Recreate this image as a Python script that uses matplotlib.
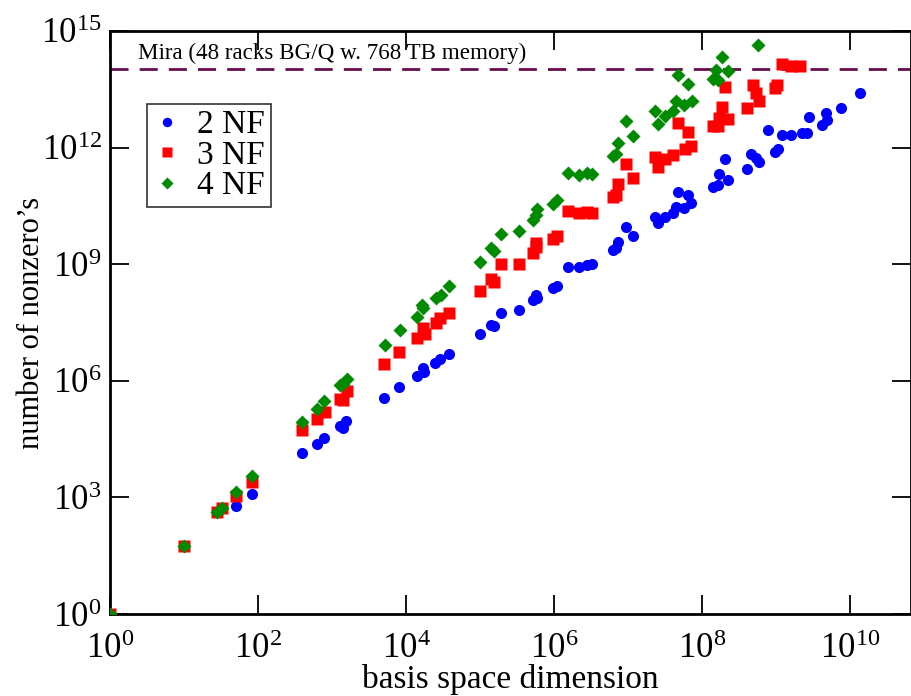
import matplotlib
matplotlib.use("Agg")
import matplotlib.pyplot as plt
import numpy as np
from matplotlib.ticker import FixedLocator, FuncFormatter, NullLocator

plt.rcParams['font.family'] = ['Liberation Serif', 'DejaVu Serif']
plt.rcParams['mathtext.fontset'] = 'custom'
plt.rcParams['mathtext.rm'] = 'Liberation Serif'
plt.rcParams['mathtext.it'] = 'Liberation Serif:italic'
plt.rcParams['mathtext.bf'] = 'Liberation Serif:bold'

# log10(basis space dimension) and log10(number of nonzeros)
x2_log = [0.00, 1.00, 1.44, 1.51, 1.70, 1.92, 2.60, 2.80, 2.89, 3.10, 3.15, 3.19, 3.70, 3.91,
          4.14, 4.23, 4.24, 4.39, 4.46, 4.58, 5.00, 5.15, 5.19, 5.28, 5.52, 5.72, 5.76, 5.77,
          5.98, 6.04, 6.19, 6.33, 6.44, 6.51, 6.79, 6.83, 6.86, 6.97, 7.06, 7.36, 7.40, 7.49,
          7.61, 7.65, 7.75, 7.85, 7.67, 7.81, 8.14, 8.21, 8.23, 8.35, 8.30, 8.61, 8.66, 8.72,
          8.77, 8.89, 8.98, 9.02, 9.07, 9.20, 9.34, 9.41, 9.44, 9.62, 9.68, 9.67, 9.87, 10.13]
y2_log = [0.00, 1.74, 2.62, 2.73, 2.79, 3.09, 4.14, 4.38, 4.53, 4.83, 4.79, 4.97, 5.56, 5.83,
          6.13, 6.32, 6.22, 6.46, 6.56, 6.69, 7.20, 7.44, 7.41, 7.74, 7.82, 8.08, 8.21, 8.12,
          8.38, 8.45, 8.92, 8.92, 8.98, 9.00, 9.36, 9.41, 9.58, 9.95, 9.73, 10.21, 10.07, 10.21,
          10.32, 10.46, 10.44, 10.57, 10.86, 10.78, 10.98, 11.04, 11.32, 11.17, 11.70, 11.44, 11.83, 11.72,
          11.62, 12.45, 11.89, 11.96, 12.32, 12.32, 12.38, 12.37, 12.79, 12.58, 12.71, 12.88, 13.01, 13.41]

x3_log = [0.00, 1.00, 1.44, 1.51, 1.70, 1.92, 2.60, 2.80, 2.91, 3.10, 3.15, 3.20, 3.70, 3.91,
          4.15, 4.23, 4.26, 4.41, 4.46, 4.58, 5.00, 5.15, 5.19, 5.28, 5.52, 5.71, 5.76, 5.76,
          5.98, 6.04, 6.19, 6.33, 6.44, 6.51, 6.79, 6.83, 6.86, 6.97, 7.06, 7.36, 7.40, 7.49,
          7.61, 7.67, 7.76, 7.81, 7.85, 8.14, 8.21, 8.23, 8.35, 8.26, 8.30, 8.61, 8.68, 8.73,
          8.77, 8.98, 9.01, 9.07, 9.20, 9.32]
y3_log = [0.00, 1.74, 2.62, 2.73, 3.03, 3.39, 4.74, 5.02, 5.21, 5.54, 5.51, 5.73, 6.44, 6.74,
          7.09, 7.35, 7.20, 7.48, 7.61, 7.75, 8.31, 8.61, 8.55, 9.00, 9.00, 9.30, 9.45, 9.54,
          9.64, 9.72, 10.38, 10.32, 10.35, 10.32, 10.74, 10.78, 11.06, 11.57, 11.21, 11.76, 11.49, 11.70,
          11.81, 12.62, 11.96, 12.41, 12.04, 12.55, 12.55, 12.75, 12.73, 13.04, 13.57, 13.01, 13.61, 13.41,
          13.21, 13.52, 13.61, 14.15, 14.10, 14.10]

x4_log = [0.00, 1.00, 1.44, 1.51, 1.70, 1.92, 2.60, 2.80, 2.89, 3.10, 3.15, 3.20, 3.71, 3.92,
          4.15, 4.23, 4.21, 4.41, 4.47, 4.58, 5.00, 5.15, 5.19, 5.28, 5.52, 5.71, 5.76, 5.77,
          5.98, 6.04, 6.19, 6.33, 6.44, 6.51, 6.79, 6.83, 6.86, 6.97, 7.06, 7.36, 7.40, 7.49,
          7.60, 7.65, 7.67, 7.75, 7.81, 7.86, 8.14, 8.21, 8.19, 8.26, 8.35, 8.75]
y4_log = [0.00, 1.74, 2.62, 2.73, 3.13, 3.54, 4.94, 5.28, 5.47, 5.88, 5.92, 6.05, 6.92, 7.31,
          7.65, 7.86, 7.95, 8.12, 8.22, 8.44, 9.06, 9.41, 9.35, 9.78, 9.86, 10.14, 10.27, 10.41,
          10.55, 10.65, 11.34, 11.29, 11.34, 11.32, 11.78, 11.83, 12.13, 12.69, 12.30, 12.93, 12.61, 12.82,
          12.93, 13.19, 13.87, 13.09, 13.64, 13.21, 13.76, 13.74, 14.00, 14.32, 13.98, 14.64]

series_labels = ["2 NF", "3 NF", "4 NF"]
mira_level = 1.03e14
mira_label = "Mira (48 racks BG/Q w. 768 TB memory)"
xtick_exps = [0, 2, 4, 6, 8, 10]
ytick_exps = [0, 3, 6, 9, 12, 15]

fig = plt.figure(figsize=(9.12, 6.96), dpi=100)
ax = fig.add_axes([0.1206, 0.1178, 0.8784, 0.8377])

green = '#008b00'
ax.plot(10 ** np.array(x2_log), 10 ** np.array(y2_log), 'o', color='#0000ff', ms=8,
        mec='none', label=series_labels[0], zorder=3)
ax.plot(10 ** np.array(x3_log), 10 ** np.array(y3_log), 's', color='#ff0000', ms=8,
        mec='none', label=series_labels[1], zorder=4)
ax.plot(10 ** np.array(x4_log), 10 ** np.array(y4_log), 'D', color=green, ms=6.8,
        mec='none', label=series_labels[2], zorder=5)

ax.axhline(mira_level, color='#650d4d', lw=2, dashes=(6.5, 4), zorder=2)
ax.text(10 ** 0.38, 10 ** 14.27, mira_label, fontsize=16.6, ha='left', va='baseline')

ax.set_xscale('log')
ax.set_yscale('log')
ax.set_xlim(1, 10 ** 10.82)
ax.set_ylim(1, 1e15)

ax.xaxis.set_major_locator(FixedLocator([10.0 ** e for e in xtick_exps]))
ax.yaxis.set_major_locator(FixedLocator([10.0 ** e for e in ytick_exps]))
ax.xaxis.set_minor_locator(NullLocator())
ax.yaxis.set_minor_locator(NullLocator())
fmt = FuncFormatter(lambda v, p: r'$\mathregular{10^{%d}}$' % int(round(np.log10(v))))
ax.xaxis.set_major_formatter(fmt)
ax.yaxis.set_major_formatter(fmt)

ax.tick_params(axis='both', which='major', direction='in', length=14, width=1.3,
               top=True, right=True, labelsize=25)
ax.tick_params(axis='x', pad=14)
ax.tick_params(axis='y', pad=6)
for s in ax.spines.values():
    s.set_linewidth(2)

ax.set_xlabel("basis space dimension", fontsize=24)
ax.xaxis.label.set_verticalalignment('baseline')
ax.xaxis.set_label_coords(0.5, -0.127)
ax.set_ylabel("number of nonzero’s", fontsize=22)
ax.yaxis.set_label_coords(-0.08, 0.5)

leg = ax.legend(loc='upper left', bbox_to_anchor=(0.046, 0.875), fontsize=24,
                frameon=True, fancybox=False, borderpad=0.18, labelspacing=0.0,
                handletextpad=0.48, handlelength=0.85, borderaxespad=0, numpoints=1,
                markerscale=0.85)
leg.get_frame().set_edgecolor('black')
leg.get_frame().set_linewidth(1.2)

fig.savefig("out.png", dpi=100)
